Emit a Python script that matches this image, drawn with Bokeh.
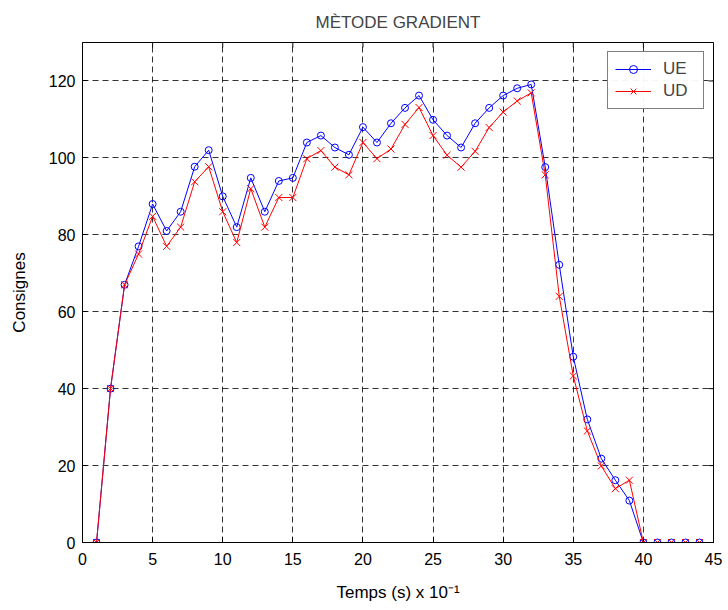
from bokeh.plotting import figure
from bokeh.models import Range1d, Legend, LegendItem, FixedTicker
from bokeh.embed import file_html
from bokeh.resources import INLINE

t = list(range(1, 45))
ue = [0, 40, 67, 77, 88, 81, 86, 97.7, 102, 90, 82, 94.8, 86, 94, 94.8,
      104, 105.8, 102.7, 100.8, 108, 104, 109, 113, 116.2, 109.9, 105.8, 102.7,
      109, 113, 116.2, 118.1, 119.1, 97.6, 72.2, 48.3, 32, 21.8, 16.2, 10.9,
      0, 0, 0, 0, 0]
ud = [0, 40, 67, 75, 84.8, 77, 82, 93.8, 97.7, 86, 78, 92, 82, 89.7, 89.7,
      99.8, 101.9, 97.6, 95.6, 104, 99.8, 102.3, 108.7, 113.1, 105.8, 100.7, 97.6,
      101.7, 107.9, 111.9, 114.8, 116.9, 95.6, 64, 43.3, 29, 19.9, 14, 16.2,
      0, 0, 0, 0, 0]
x_ticks = [0, 5, 10, 15, 20, 25, 30, 35, 40, 45]
y_ticks = [0, 20, 40, 60, 80, 100, 120]
X_MAX, Y_MAX = 45, 130

FONT = "Liberation Sans"
W, H = 728, 610
BL, BR, BT, BB = 82, 15, 42, 68
TICK_PX = 5

p = figure(width=W, height=H, output_backend="svg", toolbar_location=None,
           x_range=Range1d(0, X_MAX), y_range=Range1d(0, Y_MAX),
           min_border_left=BL, min_border_right=BR, min_border_top=BT, min_border_bottom=BB)
p.title.text = "MÈTODE GRADIENT"
p.title.align = "center"
p.title.text_font = FONT
p.title.text_font_size = "17px"
p.title.text_font_style = "normal"
p.title.standoff = 21

p.outline_line_color = "black"
p.outline_line_width = 1
p.background_fill_color = "white"
p.border_fill_color = "white"

for ax, ticks in ((p.xaxis[0], x_ticks), (p.yaxis[0], y_ticks)):
    ax.ticker = FixedTicker(ticks=ticks)
    ax.major_tick_in = TICK_PX
    ax.major_tick_out = 0
    ax.minor_tick_line_color = None
    ax.axis_line_color = "black"
    ax.major_tick_line_color = "black"
    ax.major_label_text_font = FONT
    ax.major_label_text_font_size = "16px"
    ax.major_label_text_color = "black"
    ax.axis_label_text_font = FONT
    ax.axis_label_text_font_size = "17px"
    ax.axis_label_text_font_style = "normal"
    ax.axis_label_text_color = "black"

p.xaxis[0].major_label_standoff = 10
p.yaxis[0].major_label_standoff = 7
p.yaxis[0].axis_label = "Consignes"
p.yaxis[0].axis_label_standoff = 17
p.xaxis[0].axis_label = "Temps (s) x 10⁻¹"
p.xaxis[0].axis_label_standoff = 15

p.xgrid.ticker = FixedTicker(ticks=x_ticks)
p.ygrid.ticker = FixedTicker(ticks=y_ticks)
for g in (p.xgrid[0], p.ygrid[0]):
    g.grid_line_color = "black"
    g.grid_line_alpha = 0.8
    g.grid_line_dash = "6 4"
    g.grid_line_width = 1

l1 = p.line(t, ue, line_color="blue", line_width=1)
m1 = p.scatter(t, ue, marker="circle", size=7, line_color="blue", fill_color=None, line_width=1)
l2 = p.line(t, ud, line_color="red", line_width=1)
m2 = p.scatter(t, ud, marker="x", size=10, line_color="red", line_width=1)

# inward tick marks on the top and right edges of the box
dy = TICK_PX * Y_MAX / (H - BT - BB)
dx = TICK_PX * X_MAX / (W - BL - BR)
p.multi_line(xs=[[x, x] for x in x_ticks], ys=[[Y_MAX, Y_MAX - dy] for _ in x_ticks],
             line_color="black", line_width=1)
p.multi_line(xs=[[X_MAX, X_MAX - dx] for _ in y_ticks], ys=[[y, y] for y in y_ticks],
             line_color="black", line_width=1)

legend = Legend(items=[LegendItem(label="UE", renderers=[l1, m1]),
                       LegendItem(label="UD", renderers=[l2, m2])],
                location="top_right", border_line_color="black", border_line_width=1.5,
                label_text_font=FONT, label_text_font_size="17px",
                glyph_width=36, spacing=2, padding=7, margin=9,
                label_standoff=12, label_width=33)
p.add_layout(legend)

open("out.html", "w").write(file_html(p, INLINE))
